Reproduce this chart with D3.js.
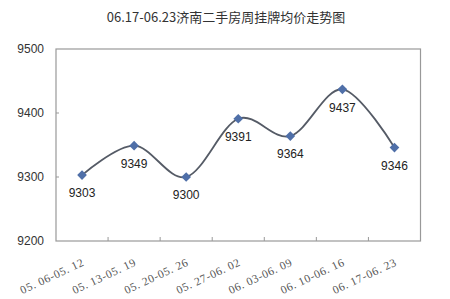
<!DOCTYPE html>
<html>
<head>
<meta charset="utf-8">
<script src="https://cdn.jsdelivr.net/npm/d3@7"></script>
<style>
	body { margin: 0; background: #fff; }
	svg { display: block; }
</style>
</head>
<body>
<svg id="chart" width="450" height="299"></svg>
<script>
// Weekly periods and average listing price.
const weeks = ['05. 06-05. 12', '05. 13-05. 19', '05. 20-05. 26', '05. 27-06. 02', '06. 03-06. 09', '06. 10-06. 16', '06. 17-06. 23'];
const prices = [9303, 9349, 9300, 9391, 9364, 9437, 9346];
const yTicks = [9200, 9300, 9400, 9500];

const svg = d3.select('#chart');
const plot = { left: 56, right: 420.5, top: 49, bottom: 241 };

const x = d3.scaleBand().domain(weeks).range([plot.left, plot.right]);
const y = d3.scaleLinear().domain([9200, 9500]).range([plot.bottom, plot.top]);

// Title.
svg.append('text')
	.attr('x', 226)
	.attr('y', 22)
	.attr('text-anchor', 'middle')
	.attr('font-family', '"Noto Sans CJK SC", sans-serif')
	.attr('font-size', 13)
	.attr('fill', '#333')
	.text('06.17-06.23济南二手房周挂牌均价走势图');

// Plot frame.
svg.append('rect')
	.attr('x', plot.left)
	.attr('y', plot.top)
	.attr('width', plot.right - plot.left)
	.attr('height', plot.bottom - plot.top)
	.attr('fill', 'none')
	.attr('stroke', '#999')
	.attr('stroke-width', 1.2);

// Y axis labels.
svg.append('g')
	.selectAll('text')
	.data(yTicks)
	.join('text')
	.attr('x', 44)
	.attr('y', d => y(d))
	.attr('dy', '0.35em')
	.attr('text-anchor', 'end')
	.attr('font-family', '"Liberation Sans", Arial, sans-serif')
	.attr('font-size', 12)
	.attr('fill', '#333')
	.text(d => d);

// Small y ticks.
svg.append('g')
	.selectAll('line')
	.data(yTicks.slice(1, -1))
	.join('line')
	.attr('x1', plot.left)
	.attr('x2', plot.left + 3)
	.attr('y1', d => y(d))
	.attr('y2', d => y(d))
	.attr('stroke', '#999');

// Category ticks between bands, pointing up.
svg.append('g')
	.selectAll('line')
	.data(weeks.slice(1))
	.join('line')
	.attr('x1', d => x(d))
	.attr('x2', d => x(d))
	.attr('y1', plot.bottom)
	.attr('y2', plot.bottom - 4)
	.attr('stroke', '#999');

// Rotated category labels.
const cx = d => x(d) + x.bandwidth() / 2;
svg.append('g')
	.selectAll('text')
	.data(weeks)
	.join('text')
	.attr('transform', d => `translate(${cx(d) + 3},${plot.bottom + 24}) rotate(-25)`)
	.attr('text-anchor', 'end')
	.attr('font-family', '"Liberation Serif", "DejaVu Serif", serif')
	.attr('font-size', 11.5)
	.attr('letter-spacing', 0.6)
	.attr('fill', '#555')
	.text(d => d);

// Smoothed line.
const line = d3.line()
	.x((d, i) => cx(weeks[i]))
	.y(d => y(d))
	.curve(d3.curveCardinal.tension(0));

svg.append('path')
	.datum(prices)
	.attr('d', line)
	.attr('fill', 'none')
	.attr('stroke', '#555b66')
	.attr('stroke-width', 1.8);

// Diamond markers.
svg.append('g')
	.selectAll('path')
	.data(prices)
	.join('path')
	.attr('transform', (d, i) => `translate(${cx(weeks[i])},${y(d)})`)
	.attr('d', d3.symbol(d3.symbolDiamond2, 60))
	.attr('fill', '#4f6fa8');

// Value labels below points.
svg.append('g')
	.selectAll('text')
	.data(prices)
	.join('text')
	.attr('x', (d, i) => cx(weeks[i]))
	.attr('y', d => y(d) + 18)
	.attr('dy', '0.35em')
	.attr('text-anchor', 'middle')
	.attr('font-family', '"Liberation Sans", Arial, sans-serif')
	.attr('font-size', 12)
	.attr('fill', '#222')
	.text(d => d);
</script>
</body>
</html>
